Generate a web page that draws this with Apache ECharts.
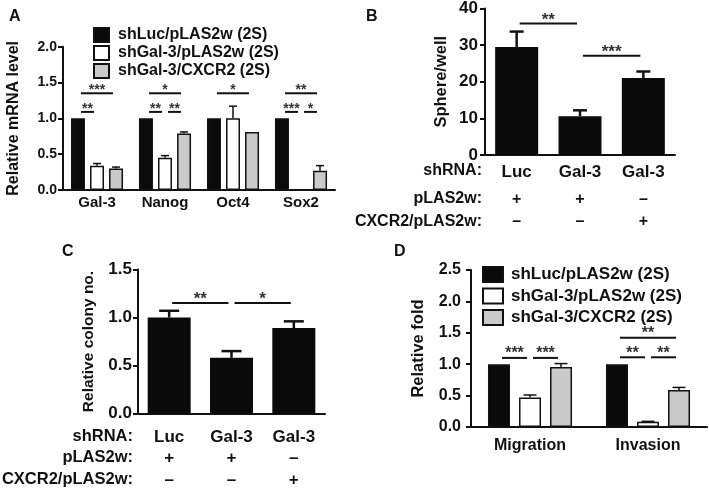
<!DOCTYPE html>
<html>
<head>
<meta charset="utf-8">
<script src="https://cdn.jsdelivr.net/npm/echarts@6/dist/echarts.min.js"></script>
<style>
  html, body { margin: 0; padding: 0; background: #fff; }
  #main { width: 709px; height: 490px; }
</style>
</head>
<body>
<div id="main"></div>
<script>
// ---- data ----
var groupNames = ['shLuc/pLAS2w (2S)', 'shGal-3/pLAS2w (2S)', 'shGal-3/CXCR2 (2S)'];

// A: relative mRNA level
var genesA = ['Gal-3', 'Nanog', 'Oct4', 'Sox2'];
var aLuc = [1.0, 1.0, 1.0, 1.0];
var aGal = [0.34, 0.45, 1.0, 0.01];
var aCxcr = [0.30, 0.79, 0.81, 0.27];
var aLucErr = [0, 0, 0, 0];
var aGalErr = [0.03, 0.03, 0.17, 0];
var aCxcrErr = [0.02, 0.02, 0, 0.07];
// [fromCat, fromBar, toCat, toBar, y, stars]
var aSig = [
  [0, 0, 0, 2, 1.35, '***'], [0, 0, 0, 1, 1.09, '**'],
  [1, 0, 1, 2, 1.35, '*'], [1, 0, 1, 1, 1.09, '**'], [1, 1, 1, 2, 1.09, '**'],
  [2, 0, 2, 2, 1.35, '*'],
  [3, 0, 3, 2, 1.35, '**'], [3, 0, 3, 1, 1.09, '***'], [3, 1, 3, 2, 1.09, '*']
];

// B / C: shared conditions
var shRNA = ['Luc', 'Gal-3', 'Gal-3'];
var pLAS2w = ['+', '+', '–'];
var cxcr2 = ['–', '–', '+'];

var bSphere = [29.5, 10.6, 21.0];
var bSphereErr = [4.2, 1.6, 1.8];
var bSig = [[0, 0, 1, 0, 35.9, '**'], [1, 0, 2, 0, 27.1, '***']];

var cColony = [1.0, 0.58, 0.89];
var cColonyErr = [0.07, 0.07, 0.07];
var cSig = [[0, 0, 1, 0, 1.15, '**'], [1, 0, 2, 0, 1.15, '*']];

// D: migration / invasion
var assaysD = ['Migration', 'Invasion'];
var dLuc = [1.0, 1.0];
var dGal = [0.47, 0.085];
var dCxcr = [0.955, 0.59];
var dLucErr = [0, 0];
var dGalErr = [0.04, 0.005];
var dCxcrErr = [0.055, 0.04];
var dSig = [
  [0, 0, 0, 1, 1.10, '***'], [0, 1, 0, 2, 1.10, '***'],
  [1, 0, 1, 1, 1.11, '**'], [1, 1, 1, 2, 1.11, '**'], [1, 0, 1, 2, 1.42, '**']
];

// ---- styles ----
var FONT = '"Liberation Sans", Arial, sans-serif';
var INK = '#111';
var barFills = ['#0a0a0a', '#ffffff', '#cacaca'];

var errRender = function (step, nBars, capHalf, lw) {
  return function (params, api) {
    var cat = api.value(0), val = api.value(1), err = api.value(2), k = api.value(3);
    if (!err) return;
    var off = (k - (nBars - 1) / 2) * step;
    var top = api.coord([cat, val + err]);
    var bot = api.coord([cat, val]);
    var x = top[0] + off;
    return {
      type: 'group',
      children: [
        { type: 'line', shape: { x1: x, y1: bot[1], x2: x, y2: top[1] }, style: { stroke: INK, lineWidth: lw } },
        { type: 'line', shape: { x1: x - capHalf, y1: top[1], x2: x + capHalf, y2: top[1] }, style: { stroke: INK, lineWidth: lw } }
      ]
    };
  };
};

var sigRender = function (sig, step, nBars, fs, dy) {
  return function (params, api) {
    var s = sig[params.dataIndex];
    var p1 = api.coord([s[0], s[4]]);
    var p2 = api.coord([s[2], s[4]]);
    var x1 = p1[0] + (s[1] - (nBars - 1) / 2) * step + 3;
    var x2 = p2[0] + (s[3] - (nBars - 1) / 2) * step - 3;
    var y = p1[1];
    return {
      type: 'group',
      children: [
        { type: 'line', shape: { x1: x1, y1: y, x2: x2, y2: y }, style: { stroke: INK, lineWidth: 2 } },
        { type: 'text', x: (x1 + x2) / 2, y: y + dy,
          style: { text: s[5], fill: '#333', font: 'bold ' + fs + 'px ' + FONT,
                   textAlign: 'center', align: 'center', textVerticalAlign: 'bottom', verticalAlign: 'bottom' } }
      ]
    };
  };
};

var errData = function (vals, errs, k) {
  return vals.map(function (v, i) { return [i, v, errs[i], k]; });
};
var sigData = function (sig) {
  return sig.map(function (s) { return [s[0], s[4]]; });
};

var xCat = function (gi, data, fs, margin, formatter, rich) {
  return {
    type: 'category', gridIndex: gi, data: data,
    axisLine: { lineStyle: { color: INK, width: 2 } },
    axisTick: { alignWithLabel: true, length: 5, lineStyle: { color: INK, width: 2 } },
    axisLabel: { interval: 0, margin: margin, color: INK, fontFamily: FONT, fontWeight: 'bold', fontSize: fs,
                 formatter: formatter, rich: rich }
  };
};
var yVal = function (gi, max, interval, name, nameGap, nameFs, fs, margin, digits) {
  return {
    type: 'value', gridIndex: gi, min: 0, max: max, interval: interval,
    name: name, nameLocation: 'middle', nameGap: nameGap,
    nameTextStyle: { color: INK, fontFamily: FONT, fontWeight: 'bold', fontSize: nameFs },
    axisLine: { show: true, lineStyle: { color: INK, width: 2 } },
    axisTick: { show: true, length: 5, lineStyle: { color: INK, width: 2 } },
    splitLine: { show: false },
    axisLabel: { margin: margin, color: INK, fontFamily: FONT, fontWeight: 'bold', fontSize: fs,
                 formatter: function (v) { return v.toFixed(digits); } }
  };
};

var rowFormatter = function (v, i) {
  return '{a|' + shRNA[i] + '}\n{b|' + pLAS2w[i] + '}\n{c|' + cxcr2[i] + '}';
};

var bar = function (name, gi, vals, k, bw, gap) {
  return {
    name: name, type: 'bar', xAxisIndex: gi, yAxisIndex: gi, data: vals,
    barWidth: bw, barGap: gap,
    itemStyle: { color: barFills[k], borderColor: INK, borderWidth: 1.5 },
    emphasis: { disabled: true }, silent: true, z: 2
  };
};
var custom = function (gi, data, render) {
  return { type: 'custom', xAxisIndex: gi, yAxisIndex: gi, data: data, renderItem: render, silent: true, z: 5 };
};

var chart = echarts.init(document.getElementById('main'), null, { renderer: 'canvas' });

var option = {
  backgroundColor: '#fff',
  animation: false,
  textStyle: { fontFamily: FONT },
  grid: [
    { left: 63, top: 46.7, width: 272, height: 143.3 },
    { left: 485, top: 7, width: 190, height: 148 },
    { left: 138, top: 269.5, width: 187, height: 144 },
    { left: 471, top: 270, width: 236, height: 157 }
  ],
  legend: [
    { data: groupNames, orient: 'vertical', left: 93, top: 27, padding: 0, itemWidth: 15, itemHeight: 14, itemGap: 2,
      icon: 'rect', selectedMode: false,
      textStyle: { color: INK, fontFamily: FONT, fontWeight: 'bold', fontSize: 16, padding: [0, 0, 0, 4] } },
    { data: groupNames, orient: 'vertical', left: 482, top: 266, padding: 0, itemWidth: 20, itemHeight: 15, itemGap: 4.5,
      icon: 'rect', selectedMode: false,
      textStyle: { color: INK, fontFamily: FONT, fontWeight: 'bold', fontSize: 17, padding: [0, 0, 0, 3] } }
  ],
  xAxis: [
    xCat(0, genesA, 15, 5),
    xCat(1, shRNA, 17, 4, rowFormatter, {
      a: { fontSize: 17, fontWeight: 'bold', color: INK, lineHeight: 26 },
      b: { fontSize: 16, fontWeight: 'bold', color: INK, lineHeight: 30 },
      c: { fontSize: 16, fontWeight: 'bold', color: INK, lineHeight: 14 }
    }),
    xCat(2, shRNA, 17, 12, rowFormatter, {
      a: { fontSize: 17, fontWeight: 'bold', color: INK, lineHeight: 23 },
      b: { fontSize: 17, fontWeight: 'bold', color: INK, lineHeight: 19 },
      c: { fontSize: 17, fontWeight: 'bold', color: INK, lineHeight: 25 }
    }),
    xCat(3, assaysD, 16, 11)
  ],
  yAxis: [
    yVal(0, 2.0, 0.5, 'Relative mRNA level', 41, 16, 14, 6, 1),
    yVal(1, 40, 10, 'Sphere/well', 35, 16.5, 17, 7, 0),
    yVal(2, 1.5, 0.5, 'Relative colony no.', 41, 15.5, 17, 6, 1),
    yVal(3, 2.5, 0.5, 'Relative fold', 44, 16.5, 16, 10, 1)
  ],
  graphic: [
    { type: 'text', left: 9, top: 9, style: { text: 'A', font: 'bold 16px ' + FONT, fill: INK } },
    { type: 'text', left: 366, top: 9, style: { text: 'B', font: 'bold 16px ' + FONT, fill: INK } },
    { type: 'text', left: 62, top: 244, style: { text: 'C', font: 'bold 16px ' + FONT, fill: INK } },
    { type: 'text', left: 394, top: 244, style: { text: 'D', font: 'bold 16px ' + FONT, fill: INK } },
    { type: 'text', right: 709 - 482, top: 163, style: { text: 'shRNA:', font: 'bold 16px ' + FONT, fill: INK } },
    { type: 'text', right: 709 - 482, top: 191, style: { text: 'pLAS2w:', font: 'bold 16px ' + FONT, fill: INK } },
    { type: 'text', right: 709 - 482, top: 214, style: { text: 'CXCR2/pLAS2w:', font: 'bold 16px ' + FONT, fill: INK } },
    { type: 'text', right: 709 - 133, top: 428, style: { text: 'shRNA:', font: 'bold 16.5px ' + FONT, fill: INK } },
    { type: 'text', right: 709 - 133, top: 449, style: { text: 'pLAS2w:', font: 'bold 16.5px ' + FONT, fill: INK } },
    { type: 'text', right: 709 - 133, top: 471, style: { text: 'CXCR2/pLAS2w:', font: 'bold 16.5px ' + FONT, fill: INK } }
  ],
  series: [
    // A
    bar(groupNames[0], 0, aLuc, 0, 14, '36%'),
    bar(groupNames[1], 0, aGal, 1, 14, '36%'),
    bar(groupNames[2], 0, aCxcr, 2, 14, '36%'),
    custom(0, errData(aLuc, aLucErr, 0).concat(errData(aGal, aGalErr, 1), errData(aCxcr, aCxcrErr, 2)), errRender(19, 3, 4, 1.5)),
    custom(0, sigData(aSig), sigRender(aSig, 19, 3, 14, 4)),
    // B
    { type: 'bar', xAxisIndex: 1, yAxisIndex: 1, data: bSphere, barWidth: 43, silent: true,
      itemStyle: { color: barFills[0] }, z: 2 },
    custom(1, errData(bSphere, bSphereErr, 0), errRender(0, 1, 7, 2.5)),
    custom(1, sigData(bSig), sigRender(bSig, 0, 1, 17, 5)),
    // C
    { type: 'bar', xAxisIndex: 2, yAxisIndex: 2, data: cColony, barWidth: 43, silent: true,
      itemStyle: { color: barFills[0] }, z: 2 },
    custom(2, errData(cColony, cColonyErr, 0), errRender(0, 1, 10, 2.5)),
    custom(2, sigData(cSig), sigRender(cSig, 0, 1, 17, 5)),
    // D
    bar(groupNames[0], 3, dLuc, 0, 22, '41%'),
    bar(groupNames[1], 3, dGal, 1, 22, '41%'),
    bar(groupNames[2], 3, dCxcr, 2, 22, '41%'),
    custom(3, errData(dLuc, dLucErr, 0).concat(errData(dGal, dGalErr, 1), errData(dCxcr, dCxcrErr, 2)), errRender(31, 3, 6.5, 1.5)),
    custom(3, sigData(dSig), sigRender(dSig, 31, 3, 16, 4))
  ]
};

chart.setOption(option);
</script>
</body>
</html>
